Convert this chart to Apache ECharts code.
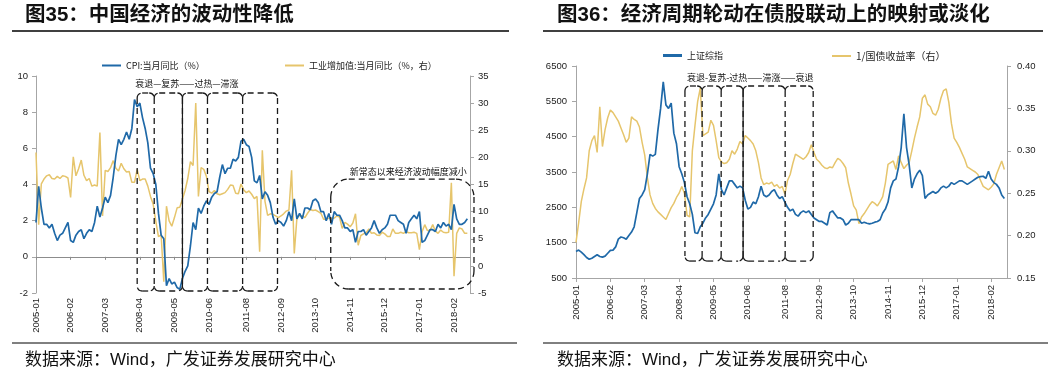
<!DOCTYPE html>
<html><head><meta charset="utf-8">
<script src="https://cdn.jsdelivr.net/npm/echarts@6/dist/echarts.min.js"></script>
<style>html,body{margin:0;padding:0;background:#fff}#c{width:1057px;height:377px}</style>
</head><body><div id="c"></div>
<script>
// monthly categories 2005-01 .. 2018-08
const months = [];
for (let y = 2005; y <= 2018; y++) for (let m = 1; m <= 12; m++) { if (y === 2018 && m > 8) break; months.push(y + '-' + String(m).padStart(2, '0')); }
const tickLabels = ['2005-01','2006-02','2007-03','2008-04','2009-05','2010-06','2011-08','2012-09','2013-10','2014-11','2015-12','2017-01','2018-02'];

// Fig 35: CPI yoy (%) and industrial value added yoy (%, right)
const cpi = [
1.9,3.9,2.7,1.8,1.8,1.6,1.8,1.3,0.9,1.2,1.3,1.6,
1.9,0.9,0.8,1.2,1.4,1.5,1.0,1.3,1.5,1.4,1.9,2.8,
2.2,2.7,3.3,3.0,3.4,4.4,5.6,6.5,6.2,6.5,6.9,6.5,
7.1,8.7,8.3,8.5,7.7,7.1,6.3,4.9,4.6,4.0,2.4,1.2,
1.0,-1.6,-1.2,-1.5,-1.4,-1.7,-1.8,-1.2,-0.8,-0.5,0.6,1.9,
1.5,2.7,2.4,2.8,3.1,2.9,3.3,3.5,3.6,4.4,5.1,4.6,
4.9,4.9,5.4,5.3,5.5,6.4,6.5,6.2,6.1,5.5,4.2,4.1,
4.5,3.2,3.6,3.4,3.0,2.2,1.8,2.0,1.9,1.7,2.0,2.5,
2.0,3.2,2.1,2.4,2.1,2.7,2.7,2.6,3.1,3.2,3.0,2.5,
2.5,2.0,2.4,1.8,2.5,2.3,2.3,2.0,1.6,1.6,1.4,1.5,
0.8,1.4,1.4,1.5,1.2,1.4,1.6,2.0,1.6,1.3,1.5,1.6,
1.8,2.3,2.3,2.3,2.0,1.9,1.8,1.3,1.9,2.1,2.3,2.1,
2.5,0.8,0.9,1.2,1.5,1.5,1.4,1.8,1.6,1.9,1.7,1.8,
1.5,2.9,2.1,1.8,1.8,1.9,2.1,null];
const ip = [
20.9,7.6,15.1,16.0,16.6,16.8,16.1,16.0,16.5,16.1,16.6,16.5,
16.2,12.6,20.1,16.6,17.9,19.5,16.7,15.7,16.1,14.7,14.9,14.7,
24.6,9.2,17.6,17.4,18.1,19.4,18.0,17.5,18.9,17.9,17.3,17.4,
15.4,15.4,17.8,15.7,16.0,16.0,14.7,12.8,11.4,8.2,5.4,5.7,
-2.9,11.0,8.3,7.3,8.9,10.7,10.8,12.3,13.9,16.1,19.2,18.5,
30.0,12.8,18.1,17.8,16.5,13.7,13.4,13.9,13.3,13.1,13.3,13.5,
14.1,14.9,14.8,13.4,13.3,15.1,14.0,13.5,13.8,13.2,12.4,12.8,
2.6,21.3,11.9,9.3,9.6,9.5,9.2,8.9,9.2,9.6,10.1,10.3,
17.6,2.3,8.9,9.3,9.2,8.9,9.7,10.4,10.2,10.3,10.0,9.7,
8.6,8.6,8.8,8.7,8.8,9.2,9.0,6.9,8.0,7.7,7.2,7.9,
9.6,3.8,5.6,5.9,6.1,6.8,6.0,6.1,5.7,5.6,6.2,5.9,
5.4,5.4,6.8,6.0,6.0,6.2,6.0,6.3,6.1,6.1,6.2,6.0,
3.0,6.3,7.6,6.5,6.5,7.6,6.4,6.0,6.6,6.2,6.1,6.2,
15.3,-1.9,6.0,7.0,6.8,6.0,6.0,null];

// Fig 36: Shanghai Composite and 1 / 10Y government bond yield (right)
const sse = [
1250,1290,1230,1160,1080,1030,1060,1110,1160,1110,1090,1120,
1200,1280,1290,1380,1600,1660,1640,1600,1700,1800,1950,2350,
2750,2850,3000,3450,4000,3950,4000,4700,5300,6050,5400,5300,
5450,4600,4300,3650,3450,3200,2800,2600,2300,1780,1760,1950,
2050,2200,2300,2450,2600,2850,3450,3000,2850,3050,3250,3250,
3150,3050,3100,3050,2700,2450,2500,2650,2600,2800,3100,2850,
2800,2850,2950,3000,2850,2750,2800,2650,2500,2400,2450,2300,
2250,2350,2400,2350,2400,2300,2200,2150,2100,2100,2050,2000,
2350,2400,2300,2200,2200,2150,2000,2050,2150,2150,2150,2150,
2050,2080,2050,2030,2050,2080,2100,2150,2340,2450,2650,3050,
3250,3300,3650,4200,5150,4200,3700,3050,3300,3450,3550,3400,
2750,2850,2900,2950,2900,2950,3050,3100,3050,3100,3200,3150,
3200,3250,3250,3200,3150,3200,3250,3300,3350,3370,3380,3320,
3520,3300,3200,3150,3050,2850,2750,null];
const invYield = [
0.192,0.215,0.240,0.255,0.268,0.300,0.312,0.318,0.298,0.352,0.305,0.325,
0.339,0.348,0.345,0.340,0.335,0.327,0.319,0.310,0.315,0.340,0.337,0.335,
0.328,0.310,0.295,0.268,0.248,0.238,0.232,0.228,0.225,0.222,0.219,0.226,
0.233,0.238,0.245,0.250,0.258,0.250,0.224,0.222,0.300,0.330,0.358,0.374,
0.318,0.320,0.322,0.336,0.330,0.312,0.292,0.287,0.285,0.286,0.290,0.300,
0.296,0.302,0.311,0.308,0.318,0.315,0.312,0.308,0.300,0.286,0.268,0.260,
0.262,0.261,0.263,0.258,0.260,0.256,0.258,0.249,0.265,0.272,0.285,0.296,
0.294,0.292,0.290,0.293,0.298,0.307,0.298,0.290,0.287,0.283,0.280,0.279,
0.281,0.280,0.286,0.291,0.289,0.285,0.280,0.262,0.249,0.235,0.230,0.214,
0.222,0.226,0.231,0.236,0.240,0.238,0.235,0.240,0.246,0.262,0.284,0.286,
0.288,0.278,0.294,0.286,0.279,0.283,0.286,0.300,0.315,0.328,0.340,0.362,
0.366,0.355,0.352,0.344,0.342,0.349,0.362,0.371,0.373,0.357,0.332,0.315,
0.310,0.304,0.297,0.290,0.281,0.279,0.277,0.275,0.272,0.265,0.258,0.256,
0.254,0.257,0.261,0.272,0.280,0.288,0.278,null];

// annotation boxes: [fromMonthIndex, toMonthIndex, topValue, bottomValue, ownLeftEdge]
const leftCycleBoxes = [[38,44.4,9.06,-1.89,1],[44.4,55,9.06,-1.89,0],[55,64.4,9.06,-1.89,0],[64.4,77.6,9.06,-1.89,0],[77.6,90.7,9.06,-1.89,0]];
const leftCycleSolid = [[55,9.06,-1.89]];
const leftNewNormalBox = [[110.7,164.5,4.3,-1.78,1]];
const leftNotes = [[37.3,9.56],[117.8,4.69]];
const leftNoteText = ['衰退—复苏——过热—滞涨','新常态以来经济波动幅度减小'];
const rightCycleBoxes = [[41.2,47.7,5934,980,1],[47.7,54.9,5934,980,0],[54.9,63.2,5934,980,0],[63.2,79.1,5934,980,0],[79.1,89.7,5934,980,0]];
const rightCycleSolid = [[63.2,5934,980]];
const rightNotes = [[42.0,6160]];
const rightNoteText = ['衰退-复苏-过热——滞涨——衰退'];

const BLUE = '#1f69a8', GOLD = '#e6c56c', AX = '#a6a6a6', TX = '#222';
const FONT = '"Liberation Sans", "Noto Sans CJK SC", sans-serif';
const CJK = '"Noto Sans CJK SC", "Liberation Sans", sans-serif';
const tickSet = new Set(tickLabels);
const showTick = (i, v) => tickSet.has(v);
const DASH = { stroke: '#1a1a1a', lineWidth: 1.3, lineDash: [6, 4], fill: 'none' };

function boxSeries(data, xIdx, yIdx, radius) {
  return { type: 'custom', xAxisIndex: xIdx, yAxisIndex: yIdx, z: 5, silent: true, clip: false,
    dimensions: ['x0','x1','y0','y1','own'], encode: { x: [0,1], y: [2,3] }, data,
    renderItem: (p, api) => {
      const a = api.coord([api.value(0), api.value(2)]), b = api.coord([api.value(1), api.value(3)]);
      const r = radius, ax = a[0], ay = a[1], bx = b[0], by = b[1];
      const ln = (x1, y1, x2, y2) => ({ type: 'line', shape: { x1, y1, x2, y2 }, style: DASH });
      const arc = (cx, cy, s, e) => ({ type: 'arc', shape: { cx, cy, r, startAngle: s, endAngle: e, clockwise: true }, style: DASH });
      const kids = [
        ln(ax + r, ay, bx - r, ay), ln(ax + r, by, bx - r, by), ln(bx, ay + r, bx, by - r),
        arc(ax + r, ay + r, Math.PI, 1.5 * Math.PI), arc(bx - r, ay + r, 1.5 * Math.PI, 2 * Math.PI),
        arc(bx - r, by - r, 0, 0.5 * Math.PI), arc(ax + r, by - r, 0.5 * Math.PI, Math.PI)
      ];
      if (api.value(4)) kids.push(ln(ax, ay + r, ax, by - r));
      return { type: 'group', children: kids };
    } };
}
function solidSeries(data, xIdx, yIdx) {
  return { type: 'custom', xAxisIndex: xIdx, yAxisIndex: yIdx, z: 5, silent: true, clip: false,
    dimensions: ['x','y0','y1'], encode: { x: 0, y: [1,2] }, data,
    renderItem: (p, api) => {
      const a = api.coord([api.value(0), api.value(1)]), b = api.coord([api.value(0), api.value(2)]);
      return { type: 'line', shape: { x1: a[0], y1: a[1] + 3, x2: b[0], y2: b[1] - 3 }, style: { stroke: '#1a1a1a', lineWidth: 1.2 } };
    } };
}
function noteSeries(data, texts, xIdx, yIdx) {
  return { type: 'custom', xAxisIndex: xIdx, yAxisIndex: yIdx, z: 6, silent: true, clip: false,
    dimensions: ['x','y'], encode: { x: 0, y: 1 }, data,
    renderItem: (p, api) => {
      const a = api.coord([api.value(0), api.value(1)]);
      return { type: 'text', style: { x: a[0], y: a[1], text: texts[p.dataIndex], fill: '#111', font: '9px ' + CJK, align: 'left', verticalAlign: 'middle' } };
    } };
}
function yAx(grid, pos, min, max, interval, margin, fmt) {
  return { type: 'value', gridIndex: grid, position: pos, min, max, interval,
    axisLine: { show: true, onZero: false, lineStyle: { color: AX } },
    axisTick: { show: true, length: 4, lineStyle: { color: AX } },
    splitLine: { show: false },
    axisLabel: { color: TX, fontSize: 9.5, fontFamily: FONT, margin, formatter: fmt || (v => String(v)) } };
}

const chart = echarts.init(document.getElementById('c'), null, { renderer: 'canvas' });
chart.setOption({
  animation: false,
  backgroundColor: '#fff',
  title: [
    { text: '图35：中国经济的波动性降低', left: 25, top: 5, padding: 0, textStyle: { fontSize: 20.5, fontWeight: 'bold', color: '#111', fontFamily: FONT } },
    { text: '图36：经济周期轮动在债股联动上的映射或淡化', left: 557, top: 5, padding: 0, textStyle: { fontSize: 20.5, fontWeight: 'bold', color: '#111', fontFamily: FONT } }
  ],
  legend: [
    { data: ['CPI:当月同比（%）'], left: 102, top: 61, padding: 0, icon: 'rect', itemWidth: 19, itemHeight: 2, itemGap: 0, textStyle: { fontSize: 9, color: TX, fontFamily: CJK } },
    { data: ['工业增加值:当月同比（%，右）'], left: 285, top: 61, padding: 0, icon: 'rect', itemWidth: 19, itemHeight: 2, itemGap: 0, textStyle: { fontSize: 9, color: TX, fontFamily: CJK } },
    { data: ['上证综指'], left: 663, top: 51, padding: 0, icon: 'rect', itemWidth: 19, itemHeight: 3, itemGap: 0, textStyle: { fontSize: 9, color: TX, fontFamily: CJK } },
    { data: ['1/国债收益率（右）'], left: 832, top: 51, padding: 0, icon: 'rect', itemWidth: 19, itemHeight: 2, itemGap: 0, textStyle: { fontSize: 10, color: TX, fontFamily: CJK } }
  ],
  grid: [
    { left: 36, top: 76, width: 434, height: 217, containLabel: false, outerBoundsMode: 'none' },
    { left: 576, top: 66, width: 431, height: 212, containLabel: false, outerBoundsMode: 'none' }
  ],
  xAxis: [
    { type: 'category', gridIndex: 0, data: months, boundaryGap: false, position: 'bottom',
      axisLine: { show: false, onZero: false }, axisTick: { show: false },
      axisLabel: { interval: showTick, rotate: 90, color: TX, fontSize: 9.5, fontFamily: FONT, margin: 5 } },
    { type: 'category', gridIndex: 0, data: months, boundaryGap: false, position: 'bottom',
      axisLine: { show: true, onZero: true, onZeroAxisIndex: 0, lineStyle: { color: '#8c8c8c' } },
      axisTick: { show: true, interval: showTick, length: 3, lineStyle: { color: '#8c8c8c' } },
      axisLabel: { show: false } },
    { type: 'value', gridIndex: 0, min: 0, max: 163, show: false },
    { type: 'category', gridIndex: 1, data: months, boundaryGap: false, position: 'bottom',
      axisLine: { show: true, onZero: false, lineStyle: { color: AX } },
      axisTick: { show: true, interval: showTick, length: 4, lineStyle: { color: AX } },
      axisLabel: { interval: showTick, rotate: 90, color: TX, fontSize: 9.5, fontFamily: FONT, margin: 7 } },
    { type: 'value', gridIndex: 1, min: 0, max: 163, show: false }
  ],
  yAxis: [
    yAx(0, 'left', -2, 10, 2, 8),
    yAx(0, 'right', -5, 35, 5, 8),
    yAx(1, 'left', 500, 6500, 1000, 9),
    yAx(1, 'right', 0.15, 0.40, 0.05, 10, v => v.toFixed(2))
  ],
  series: [
    { name: 'CPI:当月同比（%）', type: 'line', xAxisIndex: 0, yAxisIndex: 0, data: cpi, showSymbol: false, symbol: 'none', color: BLUE, lineStyle: { width: 1.7, color: BLUE }, z: 3 },
    { name: '工业增加值:当月同比（%，右）', type: 'line', xAxisIndex: 0, yAxisIndex: 1, data: ip, showSymbol: false, symbol: 'none', color: GOLD, lineStyle: { width: 1.5, color: GOLD }, z: 2 },
    boxSeries(leftCycleBoxes, 2, 0, 5),
    solidSeries(leftCycleSolid, 2, 0),
    boxSeries(leftNewNormalBox, 2, 0, 18),
    noteSeries(leftNotes, leftNoteText, 2, 0),
    { name: '1/国债收益率（右）', type: 'line', xAxisIndex: 3, yAxisIndex: 3, data: invYield, showSymbol: false, symbol: 'none', color: GOLD, lineStyle: { width: 1.5, color: GOLD }, z: 2 },
    { name: '上证综指', type: 'line', xAxisIndex: 3, yAxisIndex: 2, data: sse, showSymbol: false, symbol: 'none', color: BLUE, lineStyle: { width: 1.7, color: BLUE }, z: 3 },
    boxSeries(rightCycleBoxes, 4, 2, 5),
    solidSeries(rightCycleSolid, 4, 2),
    noteSeries(rightNotes, rightNoteText, 4, 2)
  ],
  graphic: [
    { type: 'line', shape: { x1: 12, y1: 31, x2: 509, y2: 31 }, style: { stroke: '#000', lineWidth: 1.5 } },
    { type: 'line', shape: { x1: 543, y1: 31, x2: 1043, y2: 31 }, style: { stroke: '#000', lineWidth: 1.5 } },
    { type: 'line', shape: { x1: 12, y1: 343, x2: 517, y2: 343 }, style: { stroke: '#000', lineWidth: 1 } },
    { type: 'line', shape: { x1: 543, y1: 343, x2: 1048, y2: 343 }, style: { stroke: '#000', lineWidth: 1 } },
    { type: 'text', x: 25, y: 360, style: { text: '数据来源：Wind，广发证券发展研究中心', font: '17px ' + FONT, fill: '#111', verticalAlign: 'middle' } },
    { type: 'text', x: 557, y: 360, style: { text: '数据来源：Wind，广发证券发展研究中心', font: '17px ' + FONT, fill: '#111', verticalAlign: 'middle' } }
  ]
});
</script></body></html>
